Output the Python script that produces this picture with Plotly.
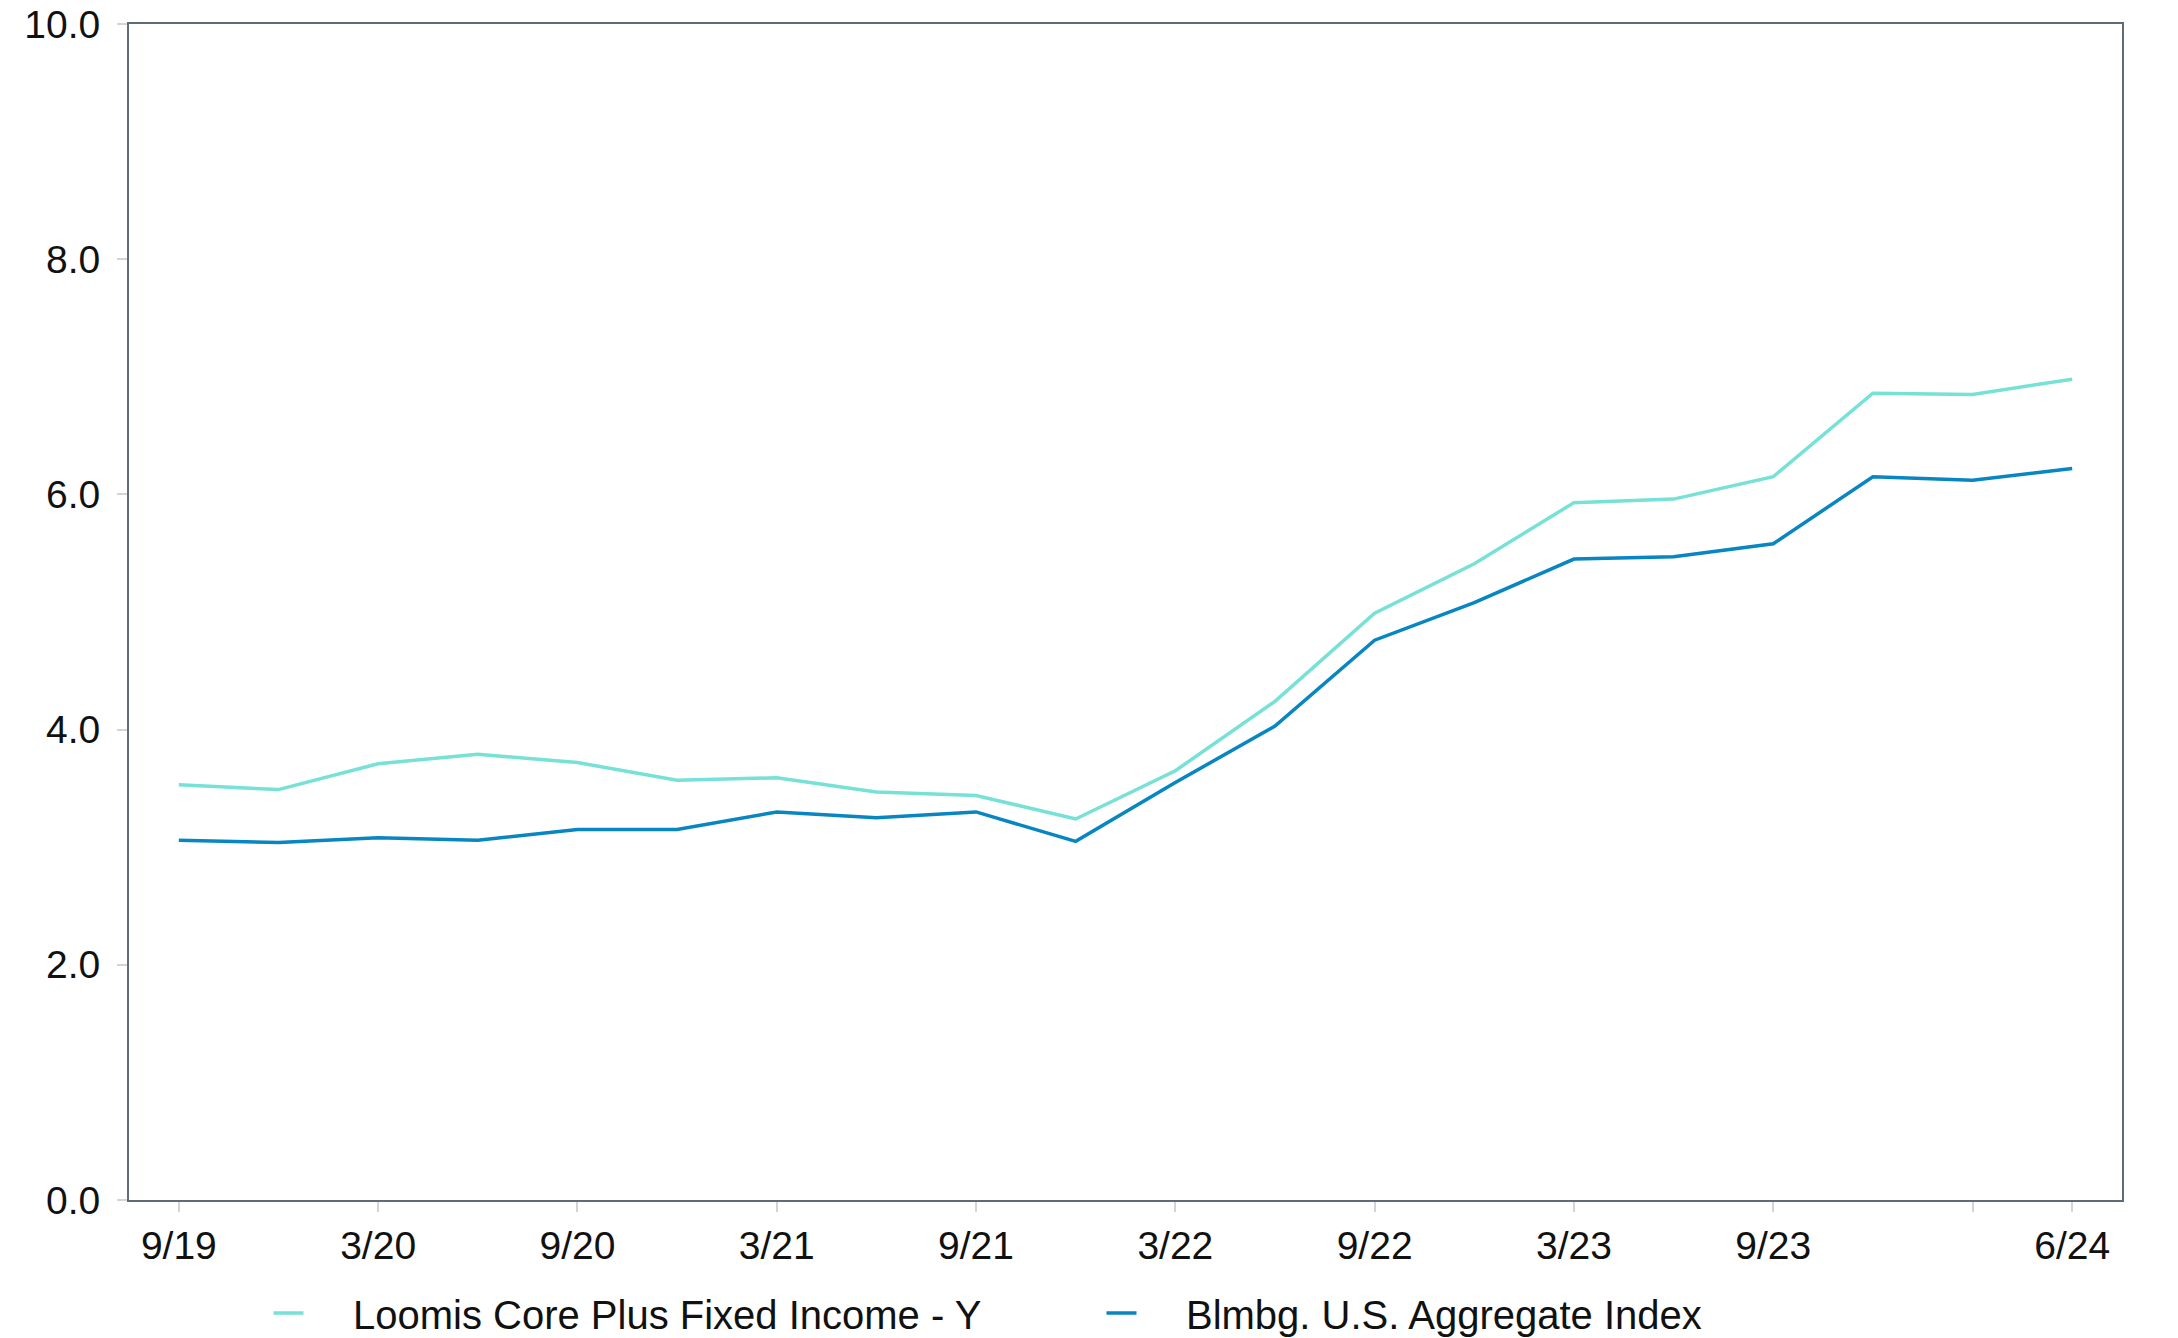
import plotly.graph_objects as go

# quarterly points, 9/19 .. 6/24
quarters = ["9/19", "12/19", "3/20", "6/20", "9/20", "12/20", "3/21", "6/21", "9/21", "12/21",
            "3/22", "6/22", "9/22", "12/22", "3/23", "6/23", "9/23", "12/23", "3/24", "6/24"]

loomis = [3.53, 3.49, 3.71, 3.79, 3.72, 3.57, 3.59, 3.47, 3.44, 3.24,
          3.65, 4.24, 4.99, 5.41, 5.93, 5.96, 6.15, 6.86, 6.85, 6.98]
blmbg = [3.06, 3.04, 3.08, 3.06, 3.15, 3.15, 3.30, 3.25, 3.30, 3.05,
         3.55, 4.03, 4.76, 5.08, 5.45, 5.47, 5.58, 6.15, 6.12, 6.22]

tick_vals = ["9/19", "3/20", "9/20", "3/21", "9/21", "3/22", "9/22", "3/23", "9/23", "3/24", "6/24"]
tick_text = ["9/19", "3/20", "9/20", "3/21", "9/21", "3/22", "9/22", "3/23", "9/23", "", "6/24"]
y_ticks = [0, 2, 4, 6, 8, 10]

font_family = "Liberation Sans, Arial, sans-serif"
border = "#5f6b76"
tick_grey = "#d4d4d4"
pad = "\u00a0" * 4  # gap between legend swatch and its label

fig = go.Figure()
fig.add_trace(go.Scatter(x=quarters, y=loomis, mode="lines", name=pad + "Loomis Core Plus Fixed Income - Y",
                         line=dict(color="#76e1d6", width=3.5)))
fig.add_trace(go.Scatter(x=quarters, y=blmbg, mode="lines", name=pad + "Blmbg. U.S. Aggregate Index",
                         line=dict(color="#0786c1", width=3.5)))

fig.update_xaxes(
    type="category", range=[-0.5, 19.5], automargin=False,
    tickmode="array", tickvals=tick_vals, ticktext=tick_text,
    showgrid=False, zeroline=False,
    showline=True, linecolor=border, linewidth=2, mirror=True,
    ticks="outside", ticklen=10, tickwidth=2, tickcolor=tick_grey,
    ticklabelstandoff=0, ticklabeloverflow="allow",
    tickfont=dict(size=39, color="#111111", family=font_family),
)
fig.update_yaxes(
    range=[0, 10], automargin=False, tickmode="array", tickvals=y_ticks, tickformat=".1f",
    showgrid=False, zeroline=False,
    showline=True, linecolor=border, linewidth=2, mirror=True,
    ticks="outside", ticklen=10, tickwidth=2, tickcolor=tick_grey,
    ticklabelstandoff=9, ticklabeloverflow="allow",
    tickfont=dict(size=39, color="#111111", family=font_family),
)

# figure is taller than the window so the legend never pushes the bottom margin;
# the extra strip below 1338 px is simply off-screen
fig.update_layout(
    width=2178, height=1400,
    margin=dict(l=129, r=56, t=24, b=200),
    plot_bgcolor="white", paper_bgcolor="white",
    font=dict(family=font_family, color="#111111"),
    showlegend=True,
    legend=dict(orientation="h", x=0.070, xanchor="left", y=-0.096, yanchor="middle",
                font=dict(size=40, color="#111111", family=font_family),
                entrywidth=788, itemwidth=30, bgcolor="rgba(0,0,0,0)"),
)

# drop the browser's default body margin so the figure sits at the page corner
fig.write_html("out.html", config={"displayModeBar": False},
               post_script="document.body.style.margin = '0';")
